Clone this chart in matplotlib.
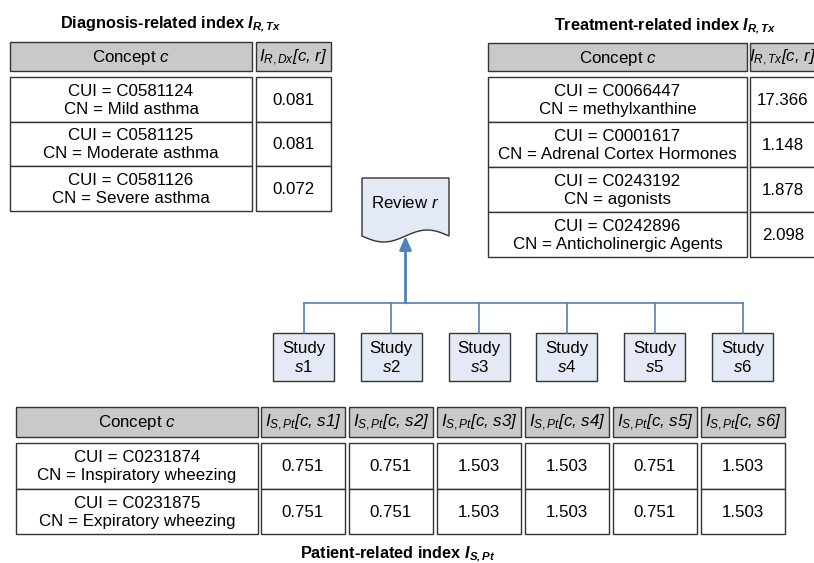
import matplotlib
matplotlib.use('Agg')
import matplotlib.pyplot as plt
from matplotlib.patches import Rectangle, PathPatch
from matplotlib.path import Path
import numpy as np

plt.rcParams['font.family'] = ['Liberation Sans', 'DejaVu Sans']
plt.rcParams['mathtext.fontset'] = 'custom'
plt.rcParams['mathtext.rm'] = 'Liberation Sans'
plt.rcParams['mathtext.it'] = 'Liberation Sans:italic'
plt.rcParams['mathtext.bf'] = 'Liberation Sans:bold'
plt.rcParams['mathtext.bfit'] = 'Liberation Sans:bold:italic'

# data
dx_cui = ['C0581124', 'C0581125', 'C0581126']
dx_cn = ['Mild asthma', 'Moderate asthma', 'Severe asthma']
dx_val = [0.081, 0.081, 0.072]

tx_cui = ['C0066447', 'C0001617', 'C0243192', 'C0242896']
tx_cn = ['methylxanthine', 'Adrenal Cortex Hormones', 'agonists', 'Anticholinergic Agents']
tx_val = [17.366, 1.148, 1.878, 2.098]

studies = ['s1', 's2', 's3', 's4', 's5', 's6']
pt_cui = ['C0231874', 'C0231875']
pt_cn = ['Inspiratory wheezing', 'Expiratory wheezing']
pt_val = [[0.751, 0.751, 1.503, 1.503, 0.751, 1.503],
          [0.751, 0.751, 1.503, 1.503, 0.751, 1.503]]

FS = 12.2
TFS = 11.7
EDGE = '#333333'
HEAD = '#c9c9c9'
BLUE = '#4f81bd'
BOXFILL = '#e4eaf5'

fig = plt.figure(figsize=(8.14, 5.63), dpi=100)
ax = fig.add_axes([0, 0, 1, 1])
ax.set_xlim(0, 814)
ax.set_ylim(563, 0)
ax.axis('off')


def concept(cui, cn):
    return 'CUI = ' + cui + '\nCN = ' + cn


def table(cols, head_y, body_y, row_h, headers, rows):
    # header row
    for i, ((x0, x1), h) in enumerate(zip(cols, headers)):
        ax.add_patch(Rectangle((x0, head_y[0]), x1 - x0, head_y[1] - head_y[0],
                               facecolor=HEAD, edgecolor=EDGE, lw=1))
        ax.text((x0 + x1) / 2, (head_y[0] + head_y[1]) / 2 + 1, h, ha='center',
                va='center', fontsize=FS, fontstyle='normal' if i == 0 else 'italic')
    # body rows
    for i, row in enumerate(rows):
        y0 = body_y + i * row_h
        for (x0, x1), s in zip(cols, row):
            ax.add_patch(Rectangle((x0, y0), x1 - x0, row_h, facecolor='white',
                                   edgecolor=EDGE, lw=1))
            ax.text((x0 + x1) / 2, y0 + row_h / 2 + 1, s, ha='center', va='center',
                    fontsize=FS, linespacing=1.25)


# diagnosis table
ax.text(171, 28, r'Diagnosis-related index $\mathbfit{I}_{\mathbfit{R,Tx}}$',
        ha='center', va='baseline', fontsize=TFS, fontweight='bold')
table([(10, 252), (256, 331)], (42, 71), 77, 44.5,
      ['Concept $\\mathit{c}$', r'$I_{R,Dx}$[c, r]'],
      [[concept(c, n), f'{v:.3f}'] for c, n, v in zip(dx_cui, dx_cn, dx_val)])

# treatment table
ax.text(665, 30, r'Treatment-related index $\mathbfit{I}_{\mathbfit{R,Tx}}$',
        ha='center', va='baseline', fontsize=TFS, fontweight='bold')
table([(488, 747), (750, 816)], (43, 71), 77, 45,
      ['Concept $\\mathit{c}$', r'$I_{R,Tx}$[c, r]'],
      [[concept(c, n), f'{v:.3f}'] for c, n, v in zip(tx_cui, tx_cn, tx_val)])

# review document
rx0, rx1, ry0, ry1 = 362, 449, 178, 236
wx = np.linspace(rx1, rx0, 40)
wy = ry1 - 6 * np.sin(2 * np.pi * (rx1 - wx) / (rx1 - rx0))
verts = [(rx0, ry0), (rx1, ry0)] + list(zip(wx, wy)) + [(rx0, ry0)]
ax.add_patch(PathPatch(Path(verts), facecolor=BOXFILL, edgecolor=EDGE, lw=1))
ax.text((rx0 + rx1) / 2, 203, 'Review $\\mathit{r}$', ha='center', va='center',
        fontsize=FS)

# studies and connectors
centers = np.linspace(303.5, 742.5, len(studies))
bus_y, box_y0, box_y1, box_w = 303, 333, 381, 61
ax.plot([centers[0], centers[-1]], [bus_y, bus_y], color=BLUE, lw=1.2)
for cx, s in zip(centers, studies):
    ax.plot([cx, cx], [bus_y, box_y0], color=BLUE, lw=1.2)
    ax.add_patch(Rectangle((cx - box_w / 2, box_y0), box_w, box_y1 - box_y0,
                           facecolor=BOXFILL, edgecolor=EDGE, lw=1))
    ax.text(cx, (box_y0 + box_y1) / 2 + 1, 'Study\n$\\mathit{' + s + '}$',
            ha='center', va='center', fontsize=FS, linespacing=1.2)
ax.annotate('', xy=(405.5, 236), xytext=(405.5, bus_y),
            arrowprops=dict(arrowstyle='-|>,head_width=0.35,head_length=0.8',
                            color=BLUE, lw=2, shrinkA=0, shrinkB=0))

# patient table
pcols = [(16, 258)]
x = 261
for s in studies:
    pcols.append((x, x + 84))
    x += 88
table(pcols, (407, 437), 443, 45.5,
      ['Concept $\\mathit{c}$'] + [r'$I_{S,Pt}$[c, ' + s + ']' for s in studies],
      [[concept(c, n)] + [f'{v:.3f}' for v in vals]
       for c, n, vals in zip(pt_cui, pt_cn, pt_val)])
ax.text(398, 558, r'Patient-related index $\mathbfit{I}_{\mathbfit{S,Pt}}$',
        ha='center', va='baseline', fontsize=TFS, fontweight='bold')

fig.savefig('out.png', dpi=100)
